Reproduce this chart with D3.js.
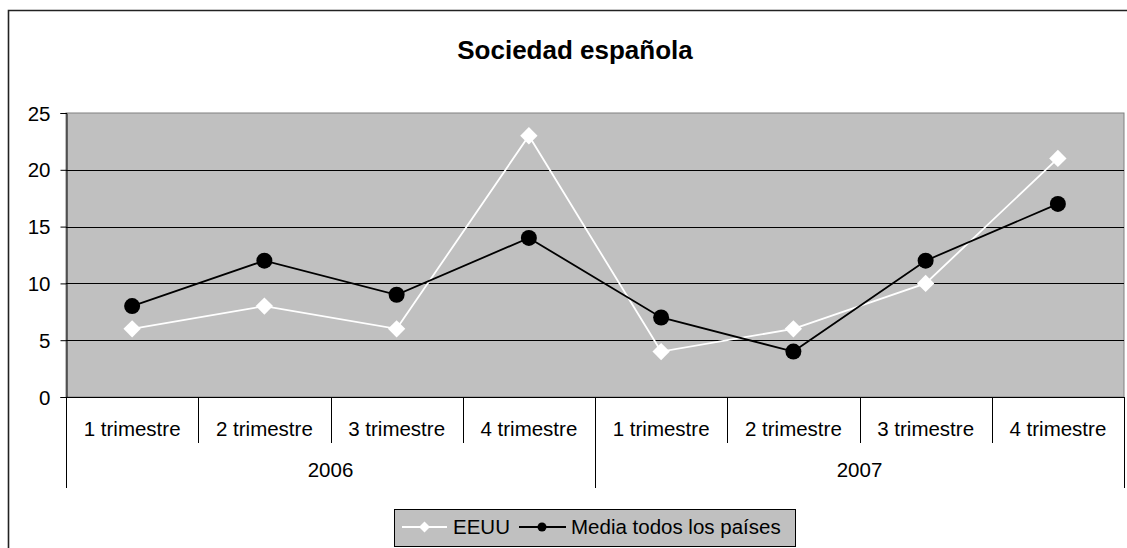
<!DOCTYPE html>
<html><head><meta charset="utf-8">
<script src="https://cdn.jsdelivr.net/npm/d3@7"></script>
<style>body{margin:0;background:#fff}svg{display:block}text{font-family:"Liberation Sans",Arial,sans-serif}</style>
</head><body>
<svg id="c" width="1127" height="548"></svg>
<script>
const quarters = ["1 trimestre","2 trimestre","3 trimestre","4 trimestre","1 trimestre","2 trimestre","3 trimestre","4 trimestre"];
const years = ["2006","2007"];
const eeuu = [6, 8, 6, 23, 4, 6, 10, 21];
const media = [8, 12, 9, 14, 7, 4, 12, 17];
const yTicks = [0, 5, 10, 15, 20, 25];
const title = "Sociedad española";
const seriesNames = ["EEUU", "Media todos los países"];

const svg = d3.select("#c");
const L = 66, R = 1124, T = 113, B = 397;
const FS = 20.5;

// outer chart border
svg.append("path").attr("d", "M8.5,560 V10.5 H1140").attr("fill","none").attr("stroke","#222").attr("stroke-width",1.6);

svg.append("text").attr("x", 575).attr("y", 59).attr("text-anchor","middle")
  .attr("font-size", 26).attr("font-weight","bold").text(title);

const x = d3.scaleBand().domain(d3.range(quarters.length)).range([L, R]);
const xYear = d3.scaleBand().domain(years).range([L, R]);
const y = d3.scaleLinear().domain([0, 25]).range([B, T]);

// plot area
svg.append("rect").attr("x", L).attr("y", T).attr("width", R - L).attr("height", B - T)
  .attr("fill", "#c0c0c0").attr("stroke", "#808080").attr("stroke-width", 1);

// gridlines
svg.append("g").selectAll("line").data(yTicks.filter(v => v > 0 && v < 25)).join("line")
  .attr("x1", L).attr("x2", R).attr("y1", d => Math.round(y(d)) + 0.5).attr("y2", d => Math.round(y(d)) + 0.5)
  .attr("stroke", "#000").attr("stroke-width", 1);

// y axis
const yAxis = d3.axisLeft(y).tickValues(yTicks).tickSize(6).tickPadding(10);
const gy = svg.append("g").attr("transform", `translate(${L + 0.5},0)`).call(yAxis);
gy.select(".domain").attr("stroke", "#000");
gy.selectAll(".tick line").attr("stroke", "#000");
gy.selectAll(".tick text").attr("font-size", FS).attr("fill", "#000").attr("dy", "0.35em");

// x axis line
svg.append("line").attr("x1", L).attr("x2", R).attr("y1", B + 0.5).attr("y2", B + 0.5).attr("stroke", "#000");

// quarter dividers
const qBounds = d3.range(quarters.length + 1).map(i => i < quarters.length ? x(i) : R);
svg.append("g").selectAll("line").data(qBounds).join("line")
  .attr("x1", d => Math.round(d) + 0.5).attr("x2", d => Math.round(d) + 0.5)
  .attr("y1", B).attr("y2", (d, i) => (i % 4 === 0) ? 488 : 443)
  .attr("stroke", "#000");

svg.append("g").selectAll("text").data(quarters).join("text")
  .attr("x", (d, i) => x(i) + x.bandwidth() / 2).attr("y", 436)
  .attr("text-anchor", "middle").attr("font-size", FS).text(d => d);

svg.append("g").selectAll("text").data(years).join("text")
  .attr("x", d => xYear(d) + xYear.bandwidth() / 2).attr("y", 477)
  .attr("text-anchor", "middle").attr("font-size", FS).text(d => d);

const cx = i => x(i) + x.bandwidth() / 2;
const line = d3.line().x((d, i) => cx(i)).y(d => y(d));

svg.append("path").datum(eeuu).attr("d", line).attr("fill", "none").attr("stroke", "#fff").attr("stroke-width", 1.8);
svg.append("path").datum(media).attr("d", line).attr("fill", "none").attr("stroke", "#000").attr("stroke-width", 1.8);

const diamond = d3.symbol().type(d3.symbolSquare).size(150);
svg.append("g").selectAll("path").data(eeuu).join("path")
  .attr("d", diamond).attr("transform", (d, i) => `translate(${cx(i)},${y(d)}) rotate(45)`).attr("fill", "#fff");

svg.append("g").selectAll("circle").data(media).join("circle")
  .attr("cx", (d, i) => cx(i)).attr("cy", d => y(d)).attr("r", 8).attr("fill", "#000");

// legend
const lg = svg.append("g");
lg.append("rect").attr("x", 394.5).attr("y", 509.5).attr("width", 401).attr("height", 37)
  .attr("fill", "#c0c0c0").attr("stroke", "#000");
const ly = 527;
lg.append("line").attr("x1", 402).attr("x2", 447).attr("y1", ly).attr("y2", ly).attr("stroke", "#fff").attr("stroke-width", 1.8);
lg.append("path").attr("d", d3.symbol().type(d3.symbolSquare).size(60)).attr("transform", `translate(424.5,${ly}) rotate(45)`).attr("fill", "#fff");
lg.append("text").attr("x", 453).attr("y", ly + 7).attr("font-size", FS).text(seriesNames[0]);
lg.append("line").attr("x1", 519).attr("x2", 566).attr("y1", ly).attr("y2", ly).attr("stroke", "#000").attr("stroke-width", 1.8);
lg.append("circle").attr("cx", 542).attr("cy", ly).attr("r", 4.5).attr("fill", "#000");
lg.append("text").attr("x", 571).attr("y", ly + 7).attr("font-size", FS).text(seriesNames[1]);
</script>
</body></html>
